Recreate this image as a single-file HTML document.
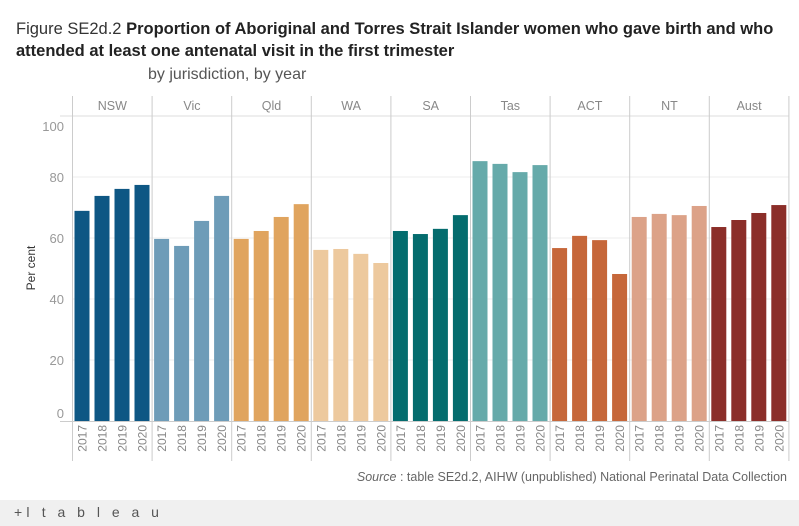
<!DOCTYPE html>
<html><head><meta charset="utf-8"><style>
body{margin:0;width:799px;height:526px;background:#fff;font-family:"Liberation Sans",sans-serif;overflow:hidden;position:relative}
#title{position:absolute;left:16px;top:18px;font-size:16.5px;line-height:22px;color:#333;width:780px}
#title b{font-weight:600;color:#222}
#sub{position:absolute;left:148px;top:66px;font-size:16px;color:#555}
#src{position:absolute;right:12px;top:470px;font-size:12.5px;color:#666}
#foot{position:absolute;left:0;top:500px;width:799px;height:26px;background:#f0f0f0}
#logo{position:absolute;left:14px;top:4px;font-size:14px;color:#555;letter-spacing:4px}
</style></head><body>
<div id="title">Figure SE2d.2 <b>Proportion of Aboriginal and Torres Strait Islander women who gave birth and who attended at least one antenatal visit in the first trimester</b></div>
<div id="sub">by jurisdiction, by year</div>
<svg id="chart" width="799" height="500" style="position:absolute;left:0;top:0"></svg>
<div id="src"><i>Source</i> : table SE2d.2, AIHW (unpublished) National Perinatal Data Collection</div>
<div id="foot"><div id="logo">+ǀ t a b l e a u</div></div>
<script>
const jurisdictions=["NSW","Vic","Qld","WA","SA","Tas","ACT","NT","Aust"];
const years=["2017","2018","2019","2020"];
const colors=["#0e5784","#6e9cb8","#e0a45e","#edc99e","#046c6e","#66aaaa","#c6673a","#dca288","#8b2e29"];
const valNSW=[68.9,73.8,76.1,77.4];
const valVic=[59.7,57.4,65.6,73.8];
const valQld=[59.7,62.3,66.9,71.1];
const valWA=[56.1,56.4,54.8,51.8];
const valSA=[62.3,61.3,63.0,67.5];
const valTas=[85.2,84.3,81.6,83.9];
const valACT=[56.7,60.7,59.3,48.2];
const valNT=[66.9,67.9,67.5,70.5];
const valAust=[63.6,65.9,68.2,70.8];
const series=[valNSW,valVic,valQld,valWA,valSA,valTas,valACT,valNT,valAust];
const yTicks=[0,20,40,60,80,100];
const svg=document.getElementById('chart');const NS="http://www.w3.org/2000/svg";
const x0=72.5,pw=79.6,yTop=116,yBot=421;
const y=v=>yBot-(v/100)*(yBot-yTop);
function mk(t,a){const e=document.createElementNS(NS,t);for(const k in a)e.setAttribute(k,a[k]);svg.appendChild(e);return e;}
yTicks.forEach(t=>{if(t>0&&t<100){const l=mk('line',{x1:x0,x2:789,y1:y(t),y2:y(t),stroke:'#eeeeee'});

}
let ly=t==100?y(t)+10:t==0?y(t)-8:y(t);
const tx=mk('text',{x:64,y:ly+5,'text-anchor':'end','font-size':13,fill:'#999'});tx.textContent=t;

});
const yt=mk('text',{x:35,y:268,'text-anchor':'middle','font-size':12,fill:'#333',transform:'rotate(-90 35 268)'});yt.textContent='Per cent';


mk('line',{x1:60,x2:789,y1:yTop,y2:yTop,stroke:'#ddd'});
mk('line',{x1:60,x2:789,y1:yBot+0.5,y2:yBot+0.5,stroke:'#ccc'});
for(let j=0;j<=jurisdictions.length;j++){mk('line',{x1:x0+j*pw,x2:x0+j*pw,y1:96,y2:461,stroke:'#ccc'});}
jurisdictions.forEach((jn,j)=>{const px=x0+j*pw;
const h=mk('text',{x:px+pw/2,y:110,'text-anchor':'middle','font-size':12.5,fill:'#888'});h.textContent=jn;


series[j].forEach((v,i)=>{const bx=px+2+i*20;
const r=mk('rect',{x:bx,y:y(v),width:15,height:yBot-y(v),fill:colors[j]});


const cx=bx+7.5;const t=mk('text',{x:cx+4.5,y:425,'text-anchor':'end','font-size':12,fill:'#888',transform:'rotate(-90 '+(cx+4.5)+' 425)'});t.textContent=years[i];

});});
</script>
</body></html>
